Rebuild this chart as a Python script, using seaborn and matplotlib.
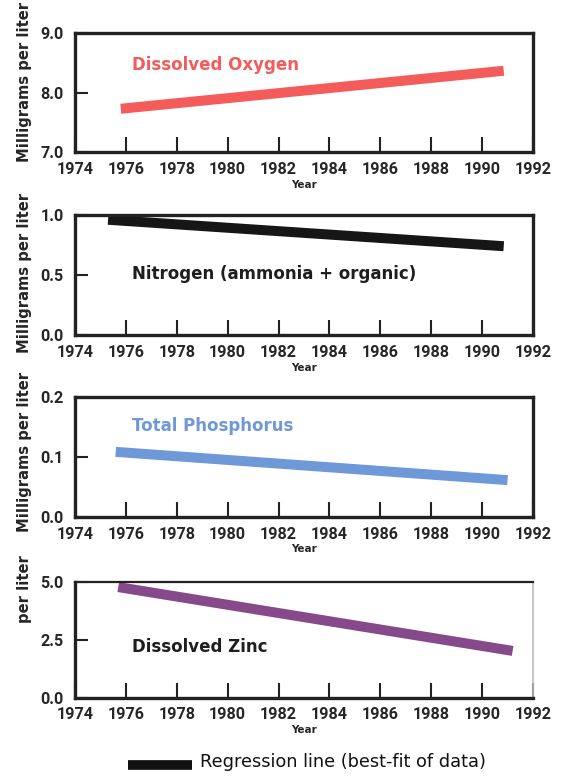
import numpy as np
import pandas as pd
import matplotlib.pyplot as plt
import seaborn as sns

# regression end points
oxygen_years = [1975.8, 1990.85]
oxygen_vals = [7.73, 8.37]
nitrogen_years = [1975.3, 1990.85]
nitrogen_vals = [0.96, 0.74]
phosphorus_years = [1975.6, 1991.0]
phosphorus_vals = [0.108, 0.061]
zinc_years = [1975.7, 1991.2]
zinc_vals = [4.78, 2.02]

names = ["Dissolved Oxygen", "Nitrogen (ammonia + organic)", "Total Phosphorus", "Dissolved Zinc"]
colors = ["#f45b5b", "#161616", "#6f98d8", "#86498a"]
text_colors = ["#f45b5b", "#1e1e1e", "#6f98d8", "#1e1e1e"]
ylims = [(7.0, 9.0), (0.0, 1.0), (0.0, 0.2), (0.0, 5.0)]
yticks = [[7.0, 8.0, 9.0], [0.0, 0.5, 1.0], [0.0, 0.1, 0.2], [0.0, 2.5, 5.0]]
label_y = [8.47, 0.51, 0.151, 2.21]
xticks = list(range(1974, 1993, 2))

df = pd.concat([
    pd.DataFrame({"Year": oxygen_years, "value": oxygen_vals, "series": names[0]}),
    pd.DataFrame({"Year": nitrogen_years, "value": nitrogen_vals, "series": names[1]}),
    pd.DataFrame({"Year": phosphorus_years, "value": phosphorus_vals, "series": names[2]}),
    pd.DataFrame({"Year": zinc_years, "value": zinc_vals, "series": names[3]}),
])

sns.set_style("white")
plt.rcParams['font.family'] = ['DejaVu Sans']
tickfont = ['Roboto', 'DejaVu Sans']

fig = plt.figure(figsize=(5.63, 7.76), dpi=100)
# axes boxes (left, bottom, width, height) in figure fractions
boxes = [
    (0.1332, 0.804, 0.8135, 0.153),
    (0.1332, 0.568, 0.8135, 0.155),
    (0.1332, 0.334, 0.8135, 0.155),
    (0.1332, 0.101, 0.8135, 0.149),
]
ylabel_pos = [0.59, 0.52, 0.54, 0.94]

for i, name in enumerate(names):
    ax = fig.add_axes(boxes[i])
    sub = df[df["series"] == name]
    sns.lineplot(data=sub, x="Year", y="value", color=colors[i], lw=7.2,
                 solid_capstyle="butt", ax=ax, legend=False)
    ax.set_xlim(1974, 1992)
    ax.set_ylim(*ylims[i])
    ax.set_xticks(xticks)
    ax.set_yticks(yticks[i])
    ax.set_xticklabels([str(t) for t in xticks], family=tickfont, fontsize=11.6, fontweight="bold")
    ax.set_yticklabels(["%.1f" % v for v in yticks[i]], family=tickfont, fontsize=11.6, fontweight="bold")
    ax.tick_params(axis="x", bottom=True, direction="in", length=10.5, width=1.5, pad=7, color="#222222")
    ax.tick_params(axis="y", left=True, direction="in", length=9.5, width=1.5, pad=8, color="#222222")
    for s in ax.spines.values():
        s.set_visible(True)
        s.set_linewidth(2.4)
        s.set_color("#222222")
    if i == 3:
        ax.spines["right"].set_color("#bbbbbb")
        ax.spines["right"].set_linewidth(1.2)
        ax.spines["top"].set_linewidth(1.6)
    ax.set_xlabel("Year", fontsize=7.5, fontweight="bold", labelpad=2)
    if i < 3:
        ax.set_ylabel("Milligrams per liter", fontsize=10.6, fontweight="bold")
    else:
        ax.set_ylabel("per liter", fontsize=10.6, fontweight="bold")
    ax.yaxis.set_label_coords(-0.093, ylabel_pos[i])
    ax.text(1976.25, label_y[i], name, color=text_colors[i],
            fontsize=12, fontweight="bold", ha="left", va="center")

# legend entry below last panel
fig.add_artist(plt.Line2D([128 / 563, 192 / 563], [1 - 765 / 776] * 2, color="#111111", lw=7,
                          solid_capstyle="butt"))
fig.text(200 / 563, 1 - 762 / 776, "Regression line (best-fit of data)", fontsize=12.8,
         ha="left", va="center", color="#111111")

fig.savefig("out.png", dpi=100)
